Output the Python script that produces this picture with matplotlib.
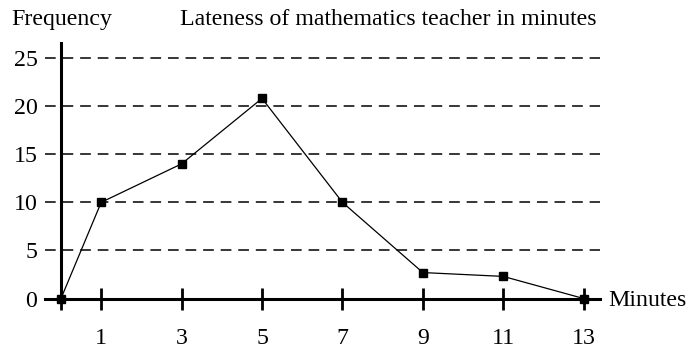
import matplotlib.pyplot as plt

# Lateness of the mathematics teacher, frequency polygon
minutes = [0, 1, 3, 5, 7, 9, 11, 13]
frequency = [0, 10, 14, 20.8, 10, 2.7, 2.3, 0]
x_ticks = [0, 1, 3, 5, 7, 9, 11, 13]
x_tick_labels = ['', '1', '3', '5', '7', '9', '11', '13']
y_ticks = [0, 5, 10, 15, 20, 25]

plt.rcParams['font.family'] = 'Liberation Serif'
plt.rcParams['font.size'] = 17.2

fig = plt.figure(figsize=(6.91, 3.5), dpi=100)
ax = fig.add_axes([0, 0, 1, 1])
ax.set_xlim(-1.517, 15.67)
ax.set_ylim(-5.35, 31.03)

for s in ['top', 'right']:
    ax.spines[s].set_visible(False)
ax.spines['left'].set_position(('data', 0))
ax.spines['bottom'].set_position(('data', 0))
ax.spines['left'].set_bounds(0, 26.6)
ax.spines['bottom'].set_bounds(-0.4, 13.4)
ax.spines['left'].set_linewidth(2.2)
ax.spines['bottom'].set_linewidth(2.2)

# dashed reference lines
ax.hlines(y_ticks[1:], -0.4, 13.4, colors='black', linestyles=(0, (7, 4.5)), linewidth=1.1)

ax.set_xticks(x_ticks)
ax.set_xticklabels(x_tick_labels)
ax.set_yticks(y_ticks)
ax.tick_params(axis='x', direction='inout', length=16, width=2, pad=13)
ax.tick_params(axis='y', length=0, pad=17)

ax.plot(minutes, frequency, color='black', linewidth=0.9,
        marker='s', markersize=5.5, markerfacecolor='black', clip_on=False, zorder=5)

ax.text(13.6, -0.2, 'Minutes', ha='left', va='center')
ax.text(-1.23, 29.0, 'Frequency', ha='left', va='center')
ax.text(2.96, 29.0, 'Lateness of mathematics teacher in minutes', ha='left', va='center')

fig.savefig('out.png', dpi=100)
